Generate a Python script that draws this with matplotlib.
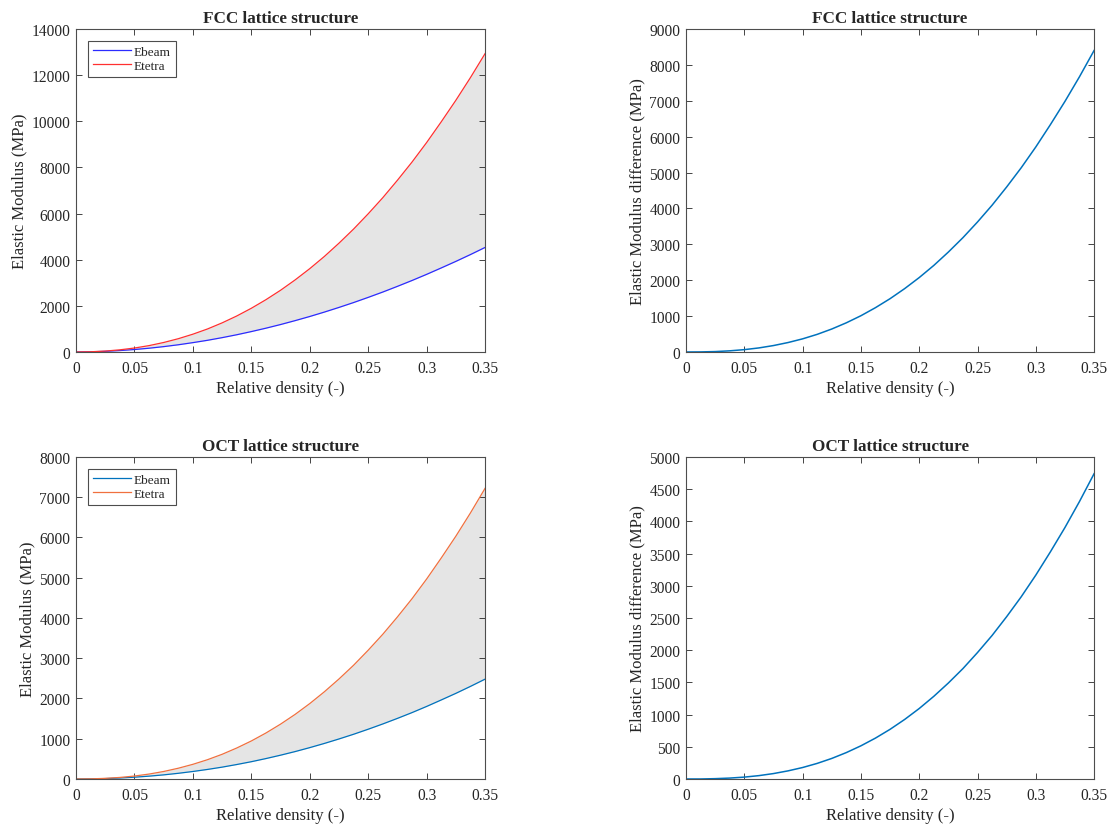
import matplotlib

matplotlib.use("Agg")

import matplotlib.pyplot as plt
import numpy as np
from matplotlib.ticker import FuncFormatter, MultipleLocator


# relative density samples
density = [0.0, 0.0125, 0.025, 0.0375, 0.05, 0.0625, 0.075, 0.0875,
           0.1, 0.1125, 0.125, 0.1375, 0.15, 0.1625, 0.175, 0.1875,
           0.2, 0.2125, 0.225, 0.2375, 0.25, 0.2625, 0.275, 0.2875,
           0.3, 0.3125, 0.325, 0.3375, 0.35]

# FCC lattice (MPa)
fcc_ebeam = [0, 7, 28, 61, 106, 163, 232, 312,
             405, 506, 621, 746, 884, 1031, 1189, 1359,
             1538, 1729, 1931, 2142, 2366, 2598, 2844, 3098,
             3364, 3642, 3926, 4222, 4530]
fcc_etetra = [0, 9, 39, 93, 171, 276, 411, 575,
              771, 997, 1261, 1559, 1894, 2266, 2674, 3124,
              3611, 4140, 4715, 5327, 5988, 6687, 7441, 8231,
              9076, 9975, 10907, 11892, 12930]

# OCT lattice (MPa)
oct_ebeam = [0, 3, 10, 24, 44, 70, 102, 141,
             186, 237, 294, 359, 429, 507, 591, 681,
             779, 883, 994, 1111, 1236, 1367, 1505, 1649,
             1802, 1963, 2127, 2300, 2480]
oct_etetra = [0, 3, 15, 38, 73, 122, 186, 267,
              364, 479, 613, 769, 944, 1142, 1362, 1605,
              1873, 2166, 2484, 2825, 3199, 3595, 4025, 4478,
              4967, 5489, 6031, 6609, 7220]

MATLAB_BLUE = "#0072BD"
TEXT = "#262626"

plt.rcParams["font.family"] = ["Liberation Serif", "DejaVu Serif"]
plt.rcParams["text.color"] = TEXT
plt.rcParams["axes.labelcolor"] = TEXT
plt.rcParams["xtick.color"] = TEXT
plt.rcParams["ytick.color"] = TEXT


def style_axes(ax, ymax, ystep, title, ylabel):
    ax.set_xlim(0, 0.35)
    ax.set_ylim(0, ymax)
    ax.xaxis.set_major_locator(MultipleLocator(0.05))
    ax.yaxis.set_major_locator(MultipleLocator(ystep))
    ax.xaxis.set_major_formatter(FuncFormatter(lambda v, p: f"{v:g}"))
    ax.yaxis.set_major_formatter(FuncFormatter(lambda v, p: f"{v:g}"))
    ax.tick_params(direction="in", top=True, right=True, length=4,
                   width=0.6, labelsize=11.2)
    ax.tick_params(axis="x", pad=6)
    ax.tick_params(axis="y", pad=4)
    for sp in ax.spines.values():
        sp.set_color("#4d4d4d")
        sp.set_linewidth(0.8)
    ax.set_title(title, fontsize=12.3, fontweight="bold", pad=5)
    ax.set_xlabel("Relative density (-)", fontsize=12, labelpad=3)
    ax.set_ylabel(ylabel, fontsize=12, labelpad=3)


def main() -> None:
    x = np.array(density)
    fig = plt.figure(figsize=(11.13, 8.28), dpi=100)

    ax1 = fig.add_axes([0.0683, 0.5737, 0.3675, 0.3901])
    ax2 = fig.add_axes([0.6164, 0.5737, 0.3666, 0.3901])
    ax3 = fig.add_axes([0.0683, 0.0580, 0.3675, 0.3889])
    ax4 = fig.add_axes([0.6164, 0.0580, 0.3666, 0.3889])

    # FCC
    fb = np.array(fcc_ebeam)
    ft = np.array(fcc_etetra)
    ax1.fill_between(x, fb, ft, color="#e5e5e5", linewidth=0)
    ax1.plot(x, fb, color="#2b2bff", linewidth=0.9, label="Ebeam")
    ax1.plot(x, ft, color="#ff3030", linewidth=0.9, label="Etetra")
    style_axes(ax1, 14000, 2000, "FCC lattice structure", "Elastic Modulus (MPa)")

    ax2.plot(x, ft - fb, color=MATLAB_BLUE, linewidth=1.1)
    style_axes(ax2, 9000, 1000, "FCC lattice structure",
               "Elastic Modulus difference (MPa)")

    # OCT
    ob = np.array(oct_ebeam)
    ot = np.array(oct_etetra)
    ax3.fill_between(x, ob, ot, color="#e5e5e5", linewidth=0)
    ax3.plot(x, ob, color=MATLAB_BLUE, linewidth=0.9, label="Ebeam")
    ax3.plot(x, ot, color="#f0703f", linewidth=0.9, label="Etetra")
    style_axes(ax3, 8000, 1000, "OCT lattice structure", "Elastic Modulus (MPa)")

    ax4.plot(x, ot - ob, color=MATLAB_BLUE, linewidth=1.1)
    style_axes(ax4, 5000, 500, "OCT lattice structure",
               "Elastic Modulus difference (MPa)")

    for ax in (ax1, ax3):
        leg = ax.legend(loc="upper left", fontsize=9.5, fancybox=False,
                        framealpha=1, borderpad=0.35, handlelength=2.9,
                        handletextpad=0.25, labelspacing=0.15,
                        borderaxespad=0.9)
        leg.get_frame().set_edgecolor("#4d4d4d")
        leg.get_frame().set_linewidth(0.8)

    fig.savefig("out.png", dpi=100)
    plt.close(fig)


if __name__ == "__main__":
    main()
